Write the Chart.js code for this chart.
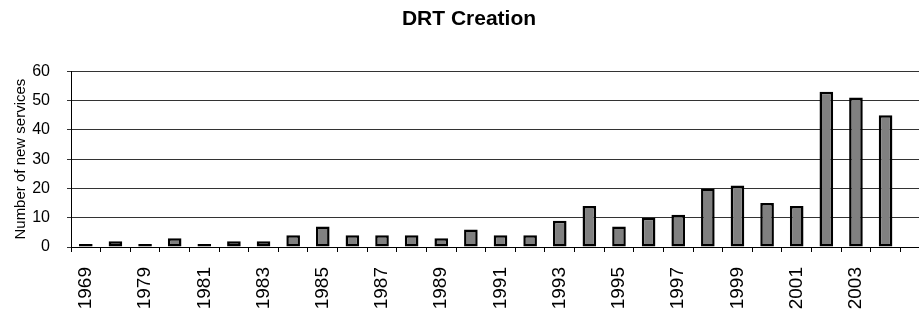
<!DOCTYPE html>
<html>
<head>
<meta charset="utf-8">
<script src="https://cdn.jsdelivr.net/npm/chart.js@4"></script>
<style>
  html, body { margin: 0; padding: 0; background: #fff; overflow: hidden; width: 919px; height: 315px; }
  canvas { display: block; }
</style>
</head>
<body>
<canvas id="c" width="942" height="315"></canvas>
<script>
const categories = ['1969','1978','1979','1980','1981','1982','1983','1984','1985','1986','1987','1988','1989','1990','1991','1992','1993','1994','1995','1996','1997','1998','1999','2000','2001','2002','2003','2004','2005'];
const newServices = [1,2,1,3,1,2,2,4,7,4,4,4,3,6,4,4,9,14,7,10,11,20,21,15,14,53,51,45,null];
const tickLabels = ['1969','','1979','','1981','','1983','','1985','','1987','','1989','','1991','','1993','','1995','','1997','','1999','','2001','','2003','',''];
const yTicks = [0,10,20,30,40,50,60];

Chart.defaults.font.family = "'Liberation Sans', Arial, sans-serif";
Chart.defaults.color = '#000';

new Chart(document.getElementById('c'), {
  type: 'bar',
  data: {
    labels: categories,
    datasets: [{
      data: newServices,
      backgroundColor: '#808080',
      borderColor: '#000',
      borderWidth: 2.5,
      borderSkipped: false,
      barPercentage: 0.46,
      categoryPercentage: 1.0
    }]
  },
  options: {
    responsive: false,
    animation: false,
    layout: { padding: { left: 8, right: 12, top: 0, bottom: 0 } },
    plugins: {
      legend: { display: false },
      tooltip: { enabled: false },
      title: {
        display: true,
        text: 'DRT Creation',
        font: { size: 21, weight: 'bold' },
        color: '#000',
        padding: { top: 7, bottom: 39 }
      }
    },
    scales: {
      x: {
        offset: true,
        grid: { display: true, drawOnChartArea: false, drawTicks: true, tickLength: 5, color: '#000', offset: true },
        border: { display: true, color: '#000', width: 1 },
        ticks: {
          autoSkip: false,
          maxRotation: 90,
          minRotation: 90,
          padding: 15,
          font: { size: 19 },
          color: '#000',
          callback: (v, i) => tickLabels[i]
        },
        afterFit: (s) => { s.paddingLeft = 0; s.paddingRight = 0; s.height = 68; }
      },
      y: {
        min: 0,
        max: 60,
        afterBuildTicks: (axis) => { axis.ticks = yTicks.map(v => ({ value: v })); },
        grid: { color: '#333', lineWidth: 1, drawTicks: true, tickLength: 4 },
        border: { display: true, color: '#000', width: 1 },
        ticks: { font: { size: 16 }, color: '#000', padding: 17 },
        title: {
          display: true,
          text: 'Number of new services',
          font: { size: 15 },
          color: '#000',
          padding: { top: 4, bottom: 4 }
        },
        afterFit: (s) => { s.width = 63; }
      }
    }
  }
});
</script>
</body>
</html>
